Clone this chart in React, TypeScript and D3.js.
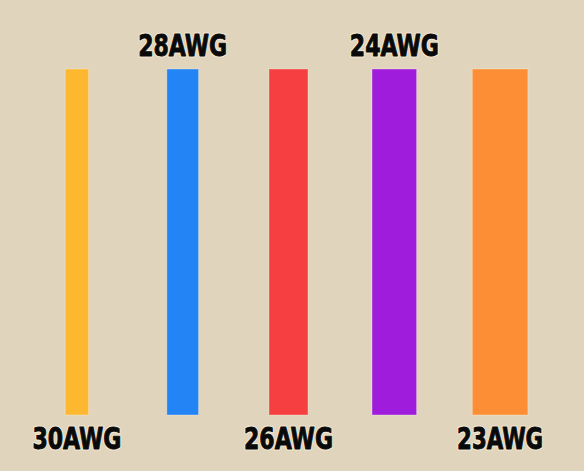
import React from "react";
import * as d3 from "d3";

// Wire gauges, thinnest to thickest
const gauges = ["30AWG", "28AWG", "26AWG", "24AWG", "23AWG"];
// Drawn thickness of each wire (px at unit scale)
const thickness = [23.4, 31.7, 39, 44.6, 55.6];
const colors = ["#FDB830", "#2384F6", "#F53F41", "#9F1CDC", "#FE8E35"];
// Labels alternate below / above the bars
const labelSide = ["bottom", "top", "bottom", "top", "bottom"];

const W = 584;
const H = 471;
const BG = "#E0D5BC";

export default function App() {
  const x = d3.scaleBand<string>().domain(gauges).range([24, 553]).padding(0);
  const w = d3.scaleLinear().domain([0, 1]).range([0, 1]);
  const y = d3.scaleLinear().domain([0, 1]).range([415, 69]);

  const labelProps = (g: string, i: number) => {
    const cx = (x(g) ?? 0) + x.bandwidth() / 2;
    const top = labelSide[i] === "top";
    return {
      x: cx,
      y: top ? 55.5 : 449,
      textAnchor: "middle" as const,
      fontFamily: "'DejaVu Sans Condensed', 'DejaVu Sans', sans-serif",
      fontWeight: "bold",
      fontSize: 30,
      textLength: g === "23AWG" ? 86 : 89,
      lengthAdjust: "spacingAndGlyphs" as const,
      strokeLinejoin: "round" as const,
    };
  };

  return (
    <svg
      width={W}
      height={H}
      style={{ position: "absolute", top: 0, left: 0, display: "block" }}
    >
      <rect width={W} height={H} fill={BG} />
      {gauges.map((g, i) => {
        const cx = (x(g) ?? 0) + x.bandwidth() / 2;
        const bw = w(thickness[i]);
        return (
          <rect
            key={g}
            x={cx - bw / 2}
            y={y(1)}
            width={bw}
            height={y(0) - y(1)}
            fill={colors[i]}
            stroke="rgba(255,240,225,0.35)"
            strokeWidth={1}
          />
        );
      })}
      {gauges.map((g, i) => (
        <g key={g + "-label"}>
          {/* light halo */}
          <text {...labelProps(g, i)} fill="#F3EAD6" stroke="#F3EAD6" strokeWidth={3}>
            {g}
          </text>
          <text {...labelProps(g, i)} fill="#0a0a0a" stroke="#0a0a0a" strokeWidth={0.9}>
            {g}
          </text>
        </g>
      ))}
    </svg>
  );
}
